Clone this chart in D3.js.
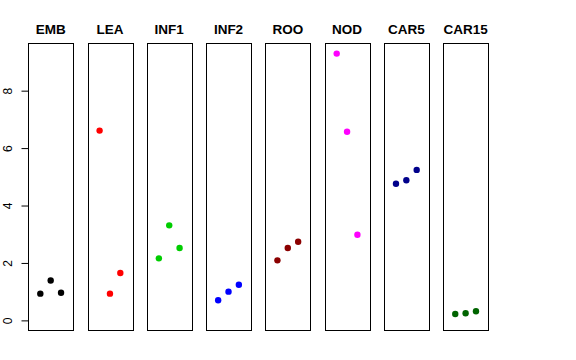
<!DOCTYPE html>
<html><head><meta charset="utf-8">
<script src="https://cdn.jsdelivr.net/npm/d3@7"></script>
<style>body{margin:0;background:#fff}svg{display:block}</style>
</head><body>
<svg id="c" width="576" height="360"></svg>
<script>
const categories = ["EMB","LEA","INF1","INF2","ROO","NOD","CAR5","CAR15"];
const colors = ["#000000","#FF0000","#00CD00","#0000FF","#8B0000","#FF00FF","#00008B","#006400"];
const vEMB = [0.93, 1.39, 0.96];
const vLEA = [6.61, 0.93, 1.65];
const vINF1 = [2.16, 3.31, 2.52];
const vINF2 = [0.70, 1.00, 1.24];
const vROO = [2.09, 2.52, 2.74];
const vNOD = [9.29, 6.57, 2.98];
const vCAR5 = [4.76, 4.88, 5.24];
const vCAR15 = [0.22, 0.25, 0.32];
const yTicks = [0, 2, 4, 6, 8];
const values = [vEMB, vLEA, vINF1, vINF2, vROO, vNOD, vCAR5, vCAR15];

const svg = d3.select("#c");
const band = d3.scaleBand().domain(categories).range([28.3, 488.0]).paddingInner(0.245).paddingOuter(0);
const y = d3.scaleLinear().domain([-0.37, 9.66]).range([331, 43]);
const xIn = d3.scaleLinear().domain([-0.16, 4.16]);

categories.forEach((cat, i) => {
  const x0 = band(cat), w = band.bandwidth();
  const g = svg.append("g");
  const xs = xIn.copy().range([x0, x0 + w]);
  g.selectAll("circle").data(values[i]).enter().append("circle")
    .attr("cx", (d, j) => xs(j + 1))
    .attr("cy", d => y(d))
    .attr("r", 3.2)
    .attr("fill", colors[i]);
  g.append("rect")
    .attr("x", Math.round(x0) + 0.5).attr("y", 43.5)
    .attr("width", Math.round(w)).attr("height", 287)
    .attr("fill", "none").attr("stroke", "#000").attr("stroke-width", 1);
  g.append("text")
    .attr("x", x0 + w / 2).attr("y", 34)
    .attr("text-anchor", "middle")
    .attr("font-family", "Liberation Sans, Arial, sans-serif")
    .attr("font-weight", "bold").attr("font-size", 13.5)
    .text(cat);
});

const ax = Math.round(band(categories[0])) + 0.5;
const axis = d3.axisLeft(y).tickValues(yTicks).tickSize(7).tickFormat(d3.format("d"));
const ag = svg.append("g").attr("transform", `translate(${ax},0)`).call(axis);
ag.select(".domain").remove();
ag.selectAll(".tick line").attr("stroke", "#000");
const lx = 8 - ax;
ag.selectAll(".tick text")
  .attr("font-family", "Liberation Sans, Arial, sans-serif")
  .attr("font-size", 12).attr("fill", "#000")
  .attr("transform", `rotate(-90, ${lx}, 0)`)
  .attr("x", lx).attr("y", 0).attr("dy", "0.35em").attr("text-anchor", "middle");
</script>
</body></html>
